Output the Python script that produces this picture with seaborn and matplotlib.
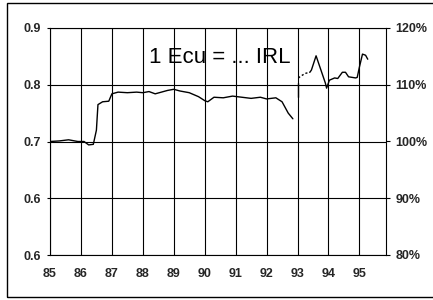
import matplotlib
matplotlib.use("Agg")
import matplotlib.pyplot as plt
import matplotlib.patches as mpatches
import pandas as pd
import seaborn as sns

# Ecu / IRL exchange rate, decimal years
years_a = [85.0, 85.3, 85.6, 85.9, 86.1, 86.25, 86.4, 86.5, 86.55, 86.7, 86.9,
           87.0, 87.2, 87.5, 87.8, 88.0, 88.2, 88.4, 88.6, 88.8, 89.0, 89.2,
           89.5, 89.8, 90.0, 90.1, 90.3, 90.6, 90.9, 91.2, 91.5, 91.8, 92.0,
           92.3, 92.5, 92.7, 92.85]
rate_a = [0.700, 0.701, 0.703, 0.700, 0.700, 0.694, 0.695, 0.720, 0.765, 0.770, 0.771,
          0.784, 0.787, 0.786, 0.787, 0.786, 0.788, 0.784, 0.787, 0.790, 0.792, 0.789,
          0.786, 0.779, 0.772, 0.770, 0.778, 0.777, 0.780, 0.778, 0.776, 0.778, 0.775,
          0.777, 0.770, 0.750, 0.740]

years_jump = [93.0, 93.0]
rate_jump = [0.778, 0.803]

years_gap = [93.03, 93.1, 93.25, 93.4]
rate_gap = [0.812, 0.815, 0.820, 0.822]

years_b = [93.4, 93.45, 93.6, 93.9, 93.94, 94.03, 94.2, 94.3, 94.45, 94.55, 94.65,
           94.88, 94.93, 95.0, 95.1, 95.2, 95.27]
rate_b = [0.822, 0.826, 0.851, 0.803, 0.794, 0.808, 0.812, 0.811, 0.822, 0.822, 0.814,
          0.812, 0.813, 0.831, 0.854, 0.852, 0.845]

x_ticks = [85, 86, 87, 88, 89, 90, 91, 92, 93, 94, 95]
left_ticks = [0.5, 0.6, 0.7, 0.8, 0.9]
left_labels = ["0.6", "0.6", "0.7", "0.8", "0.9"]
right_ticks = [80, 90, 100, 110, 120]
right_labels = ["80%", "90%", "100%", "110%", "120%"]

sns.set_theme(style="white")
plt.rcParams["font.family"] = ["Liberation Sans", "DejaVu Sans"]

fig = plt.figure(figsize=(4.33, 3.0), dpi=100)
ax = fig.add_axes([50 / 433, 45 / 300, 336 / 433, 227 / 300])

pieces = [
    (years_a, rate_a, "-"),
    (years_jump, rate_jump, "-"),
    (years_gap, rate_gap, (0, (1.5, 1.5))),
    (years_b, rate_b, "-"),
]
for xs, ys, ls in pieces:
    df = pd.DataFrame({"year": xs, "rate": ys})
    sns.lineplot(data=df, x="year", y="rate", ax=ax, color="black", linewidth=1.0,
                 linestyle=ls, sort=False, estimator=None)

ax.set_xlim(85, 95.86)
ax.set_ylim(0.5, 0.9)
ax.set_xticks(x_ticks)
ax.set_xticklabels([str(t) for t in x_ticks])
ax.set_yticks(left_ticks)
ax.set_yticklabels(left_labels)
ax.set_xlabel("")
ax.set_ylabel("")
ax.grid(True, color="black", linewidth=0.8)
ax.tick_params(axis="both", direction="out", length=2.5, width=0.8, color="black",
               labelsize=9, pad=4)
ax.tick_params(axis="x", pad=7)
for lab in ax.get_xticklabels() + ax.get_yticklabels():
    lab.set_fontweight("bold")
for side in ["left", "bottom", "top", "right"]:
    ax.spines[side].set_color("black")
    ax.spines[side].set_linewidth(0.8)

ax2 = ax.twinx()
ax2.set_ylim(80, 120)
ax2.set_yticks(right_ticks)
ax2.set_yticklabels(right_labels)
ax2.tick_params(axis="y", direction="out", length=3, width=0.8, color="black",
                labelsize=9, pad=4)
for lab in ax2.get_yticklabels():
    lab.set_fontweight("bold")
ax2.grid(False)
for side in ["left", "bottom", "top", "right"]:
    ax2.spines[side].set_visible(False)

ax.text(88.2, 0.838, "1 Ecu = ... IRL", fontsize=16, ha="left", va="baseline",
        color="black")

fig.patches.append(mpatches.Rectangle((7 / 433, 3 / 300), 1.0, 294 / 300,
                                      transform=fig.transFigure, fill=False,
                                      edgecolor="black", linewidth=1.0))

fig.savefig("out.png", dpi=100)
